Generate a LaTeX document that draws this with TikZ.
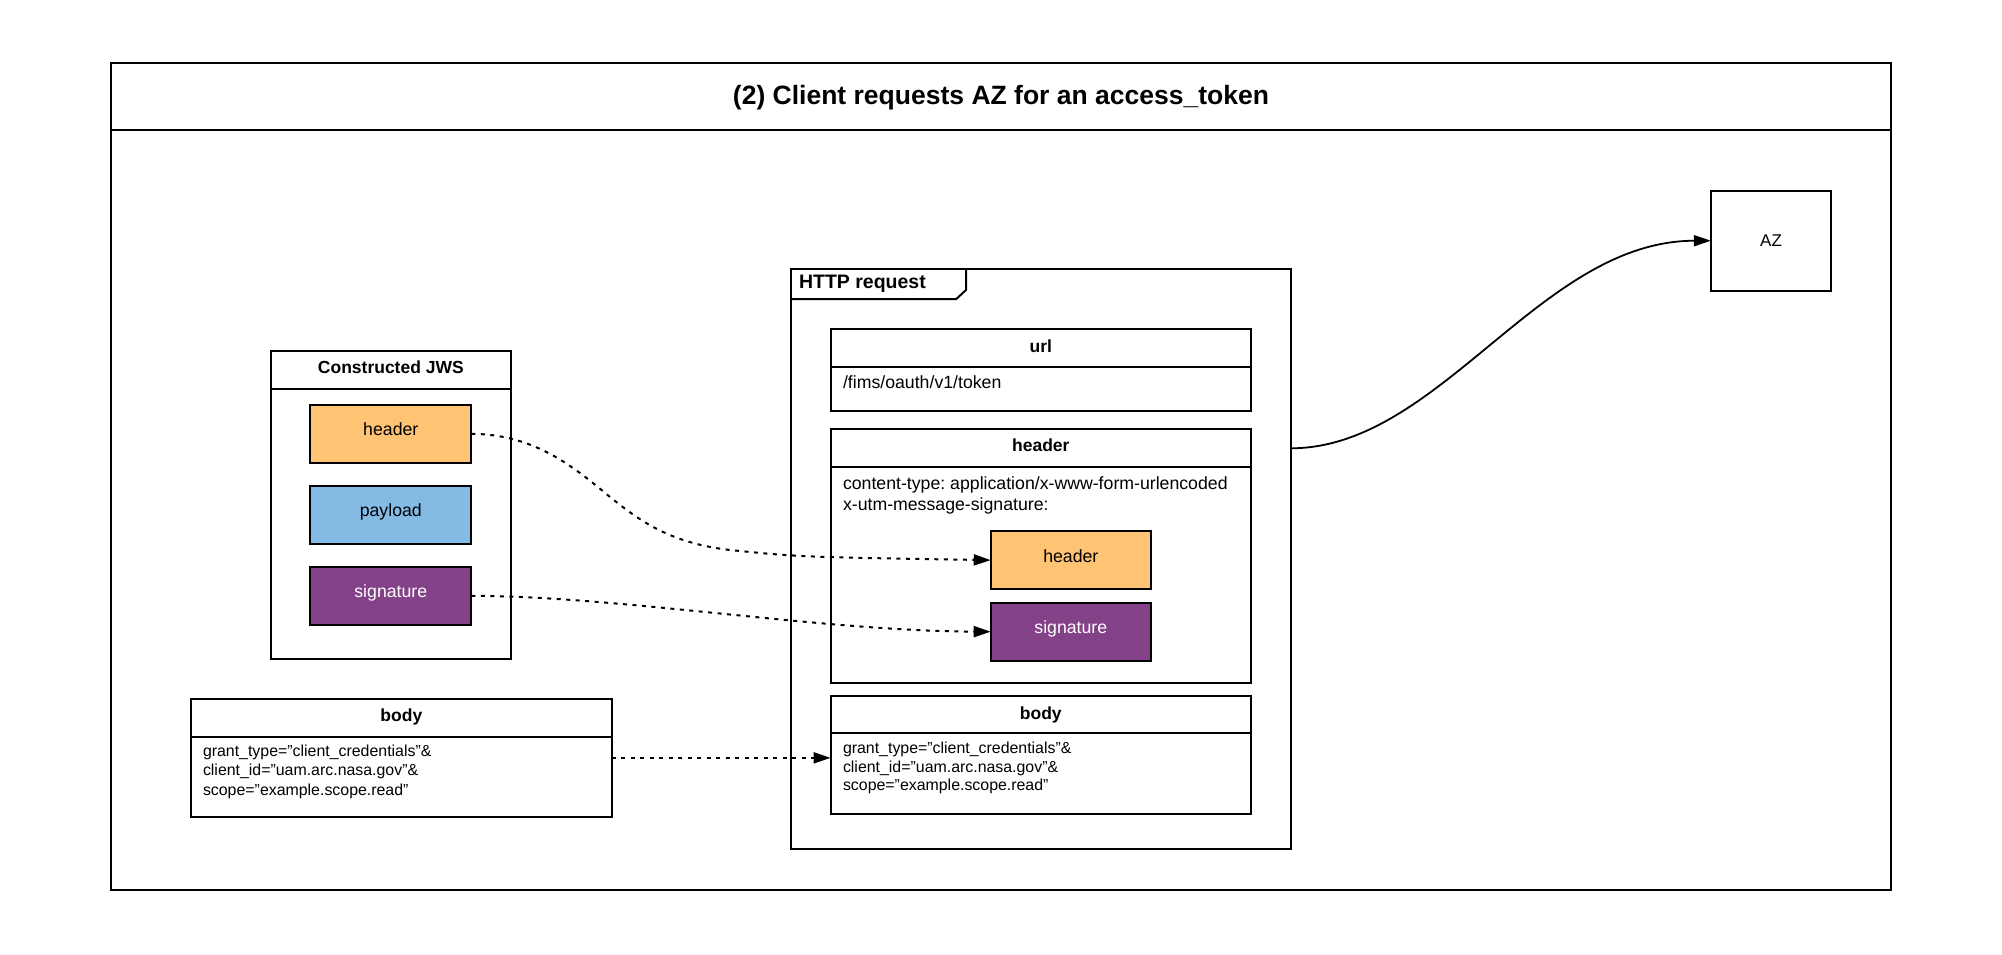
\documentclass[tikz,border=0pt]{standalone}
\usepackage{fontspec}
\setmainfont{Liberation Sans}
\frenchspacing
\usetikzlibrary{arrows.meta}
\definecolor{hdrorange}{HTML}{FFC374}
\definecolor{plblue}{HTML}{83BBE5}
\definecolor{sigpurple}{HTML}{834187}
\tikzset{
  box/.style={draw, line width=2pt, inner sep=0pt, outer sep=0pt},
  divline/.style={line width=2pt},
  titlefont/.style={font=\fontsize{26.5pt}{32pt}\selectfont\bfseries},
  httpfont/.style={font=\fontsize{19.5pt}{23pt}\selectfont\bfseries},
  secfont/.style={font=\fontsize{17.5pt}{21pt}\selectfont\bfseries},
  labelfont/.style={font=\fontsize{17.7pt}{21pt}\selectfont},
  bodyfont/.style={font=\fontsize{15.9pt}{19pt}\selectfont},
  txt/.style={inner sep=0pt, outer sep=0pt},
  chip/.style={box, minimum width=161pt, text height=9pt, text depth=5pt, labelfont},
  dotline/.style={line width=2pt, dash pattern=on 4pt off 5.5pt, -{Triangle[length=17pt,width=11pt]}},
  solidline/.style={line width=1.8pt, -{Triangle[length=17pt,width=11pt]}},
}
\begin{document}
\begin{tikzpicture}[x=1pt,y=-1pt]
\useasboundingbox (0,0) rectangle (2002,955);
\fill[white] (0,0) rectangle (2002,955);

% outer frame
\node[box, minimum width=1780pt, minimum height=827.6pt] (outer) at (1001,476.5) {};
\draw[divline] (outer.west |- 0,130.3) -- (outer.east |- 0,130.3);
\node[txt, titlefont, anchor=base] (title) at (1001,105) {(2) Client requests AZ for an access\_token};

% Constructed JWS
\node[box, minimum width=240.3pt, minimum height=308.3pt] (jws) at (390.85,504.85) {};
\draw[divline] (jws.west |- 0,389) -- (jws.east |- 0,389);
\node[txt, secfont, anchor=base] (jwstitle) at (390.85,373.3) {Constructed JWS};
\node[chip, fill=hdrorange, minimum height=58.3pt] (jh) at (390.8,433.85) {header};
\node[chip, fill=plblue, minimum height=58.3pt] (jp) at (390.8,514.85) {payload};
\node[chip, fill=sigpurple, text=white, minimum height=58.3pt] (js) at (390.8,595.85) {signature};

% left body
\node[box, minimum width=420.7pt, minimum height=117.7pt] (lb) at (401.35,757.85) {};
\draw[divline] (lb.west |- 0,736.7) -- (lb.east |- 0,736.7);
\node[txt, secfont, anchor=base] (lbtitle) at (401.35,721.7) {body};
\node[txt, bodyfont, anchor=base west] (lb1) at (203,756) {grant\_type="client\_credentials"\&};
\node[txt, bodyfont, anchor=base west] (lb2) at (203,775.5) {client\_id="uam.arc.nasa.gov"\&};
\node[txt, bodyfont, anchor=base west] (lb3) at (203,795) {scope="example.scope.read"};

% HTTP request frame
\node[box, minimum width=499.6pt, minimum height=580pt] (http) at (1041.2,559) {};
\draw[line width=2pt, line join=miter] (http.west |- 0,299) -- (956.3,299) -- (966,290) -- (966,269);
\node[txt, httpfont, anchor=base west] (httptitle) at (799,288.3) {HTTP request};

% url
\node[box, minimum width=420.4pt, minimum height=81.7pt] (url) at (1040.8,369.85) {};
\draw[divline] (url.west |- 0,366.7) -- (url.east |- 0,366.7);
\node[txt, secfont, anchor=base] (urltitle) at (1040.8,352.3) {url};
\node[txt, labelfont, anchor=base west] (urltext) at (843,388) {/fims/oauth/v1/token};

% header
\node[box, minimum width=420.4pt, minimum height=253.7pt] (hdr) at (1040.8,555.85) {};
\draw[divline] (hdr.west |- 0,466.7) -- (hdr.east |- 0,466.7);
\node[txt, secfont, anchor=base] (hdrtitle) at (1040.8,451.7) {header};
\node[txt, labelfont, anchor=base west] (hdr1) at (843,489.3) {content-type: application/x-www-form-urlencoded};
\node[txt, labelfont, anchor=base west] (hdr2) at (843,510.3) {x-utm-message-signature:};
\node[chip, fill=hdrorange, minimum width=160.2pt, minimum height=58.3pt] (hh) at (1070.8,560.15) {header};
\node[chip, fill=sigpurple, text=white, minimum width=160.2pt, minimum height=58pt] (hs) at (1070.8,631.7) {signature};

% http body
\node[box, minimum width=420.4pt, minimum height=118.3pt] (hb) at (1040.8,754.85) {};
\draw[divline] (hb.west |- 0,733.3) -- (hb.east |- 0,733.3);
\node[txt, secfont, anchor=base] (hbtitle) at (1040.8,719) {body};
\node[txt, bodyfont, anchor=base west] (hb1) at (843,753.3) {grant\_type="client\_credentials"\&};
\node[txt, bodyfont, anchor=base west] (hb2) at (843,772) {client\_id="uam.arc.nasa.gov"\&};
\node[txt, bodyfont, anchor=base west] (hb3) at (843,790.7) {scope="example.scope.read"};

% AZ
\node[box, minimum width=120.2pt, minimum height=100pt, font=\fontsize{17pt}{20pt}\selectfont] (az) at (1771,240.7) {AZ};

% connectors
\draw[dotline] (jh.east) .. controls (535,434) and (575,468) .. (610,497)
   .. controls (640,521) and (670,543) .. (730,550)
   .. controls (800,557) .. (hh.west);
\draw[dotline] (js.east) .. controls (620,596) and (820,631) .. (hs.west);
\draw[dotline] (lb.east) -- (lb.east -| hb.west);
\draw[solidline] (http.east |- 0,448.3) .. controls (1440,448) and (1540,241) .. (az.west);
\end{tikzpicture}
\end{document}
